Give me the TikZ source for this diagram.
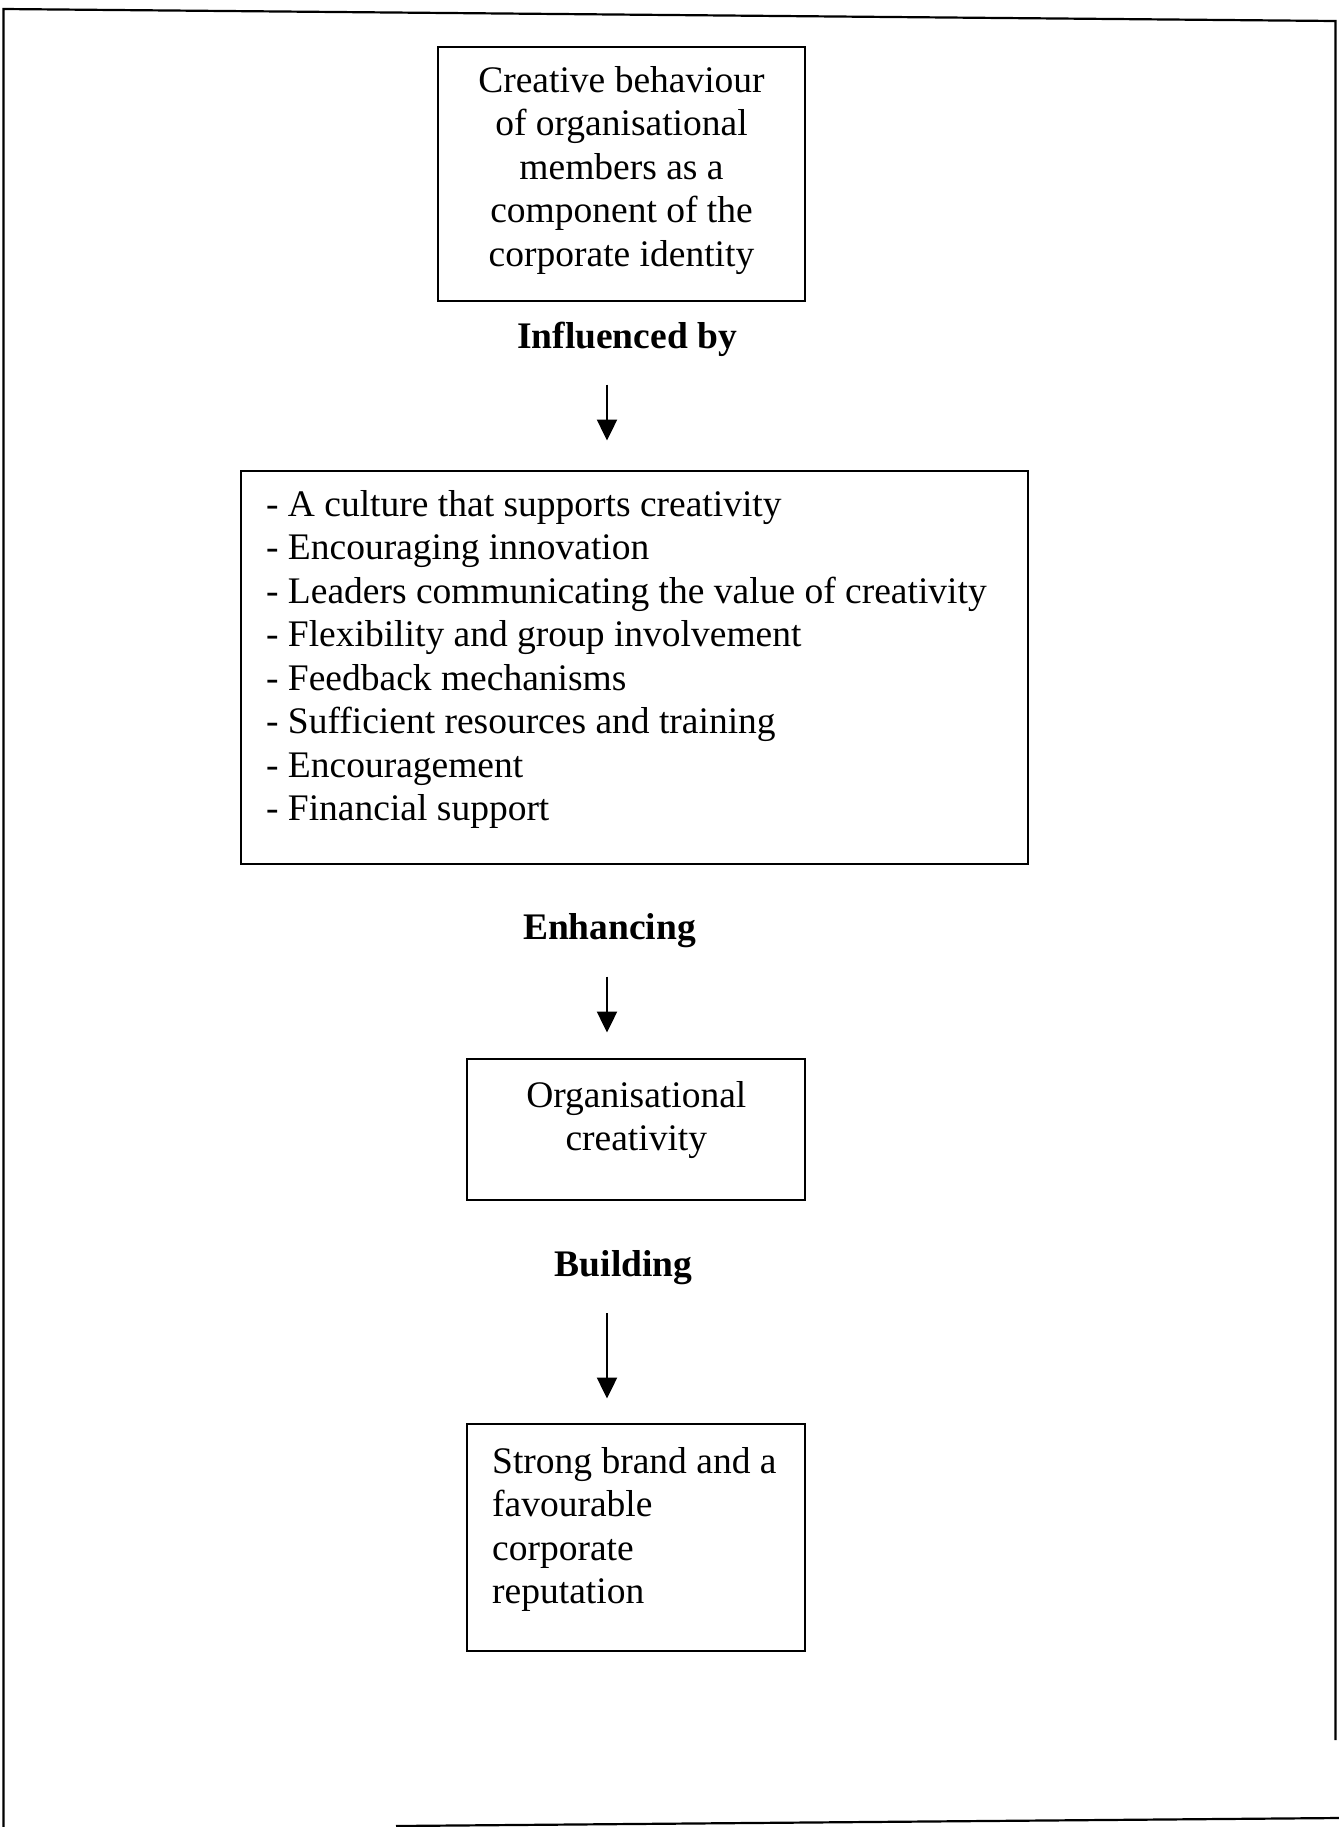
\documentclass[tikz,border=0pt]{standalone}
\usepackage{fontspec}
\setmainfont{Liberation Serif}
\usetikzlibrary{arrows.meta}
\tikzset{
  frameline/.style={line width=1.1pt},
  boxframe/.style={draw, line width=1pt, rectangle, inner sep=0pt},
  bodytext/.style={inner sep=0pt, font=\fontsize{18.75pt}{21.75pt}\selectfont},
  steplabel/.style={inner sep=0pt, font=\fontsize{18.75pt}{21.75pt}\selectfont\bfseries},
  flowarrow/.style={line width=1.2pt, -{Triangle[length=10.5pt,width=10pt]}},
}
\begin{document}
\begin{tikzpicture}[x=0.5pt,y=-0.5pt]
\useasboundingbox (0,0) rectangle (1339,1827);

% outer page frame
\draw[frameline] (3.5,1827) -- (3.5,9) -- (1335.5,21) -- (1335.5,1740);
\draw[frameline] (396,1826) -- (1339,1818);

% boxes
\node[boxframe, minimum width=183.5pt, minimum height=127pt] (b1) at (621.5,174) {};
\node[boxframe, minimum width=393.5pt, minimum height=196.5pt] (b2) at (634.5,667) {};
\node[boxframe, minimum width=169pt, minimum height=70.5pt] (b3) at (636.3,1129.9) {};
\node[boxframe, minimum width=169pt, minimum height=113.5pt] (b4) at (636.3,1537.8) {};

% box texts
\node[bodytext, align=center] (t1) at (621.5,170.5)
  {Creative behaviour\\of organisational\\members as a\\component of the\\corporate identity};
\node[bodytext, align=left, anchor=west] (t2) at (265.7,659.5)
  {- A culture that supports creativity\\
   - Encouraging innovation\\
   - Leaders communicating the value of creativity\\
   - Flexibility and group involvement\\
   - Feedback mechanisms\\
   - Sufficient resources and training\\
   - Encouragement\\
   - Financial support};
\node[bodytext, align=center] (t3) at (636.3,1120) {Organisational\\creativity};
\node[bodytext, align=left, anchor=west] (t4) at (491.8,1529.5)
  {Strong brand and a\\favourable\\corporate\\reputation};

% relation labels
\node[steplabel] (l1) at (627,339) {Influenced by};
\node[steplabel] (l2) at (609.5,931) {Enhancing};
\node[steplabel] (l3) at (623.5,1268) {Building};

% arrows
\coordinate (a1s) at (607,384.6);
\coordinate (a1e) at (607,440.5);
\coordinate (a2s) at (607,976.6);
\coordinate (a2e) at (607,1032.5);
\coordinate (a3s) at (607,1313.4);
\coordinate (a3e) at (607,1398.5);
\draw[flowarrow] (a1s) -- (a1e);
\draw[flowarrow] (a2s) -- (a2e);
\draw[flowarrow] (a3s) -- (a3e);
\end{tikzpicture}
\end{document}
